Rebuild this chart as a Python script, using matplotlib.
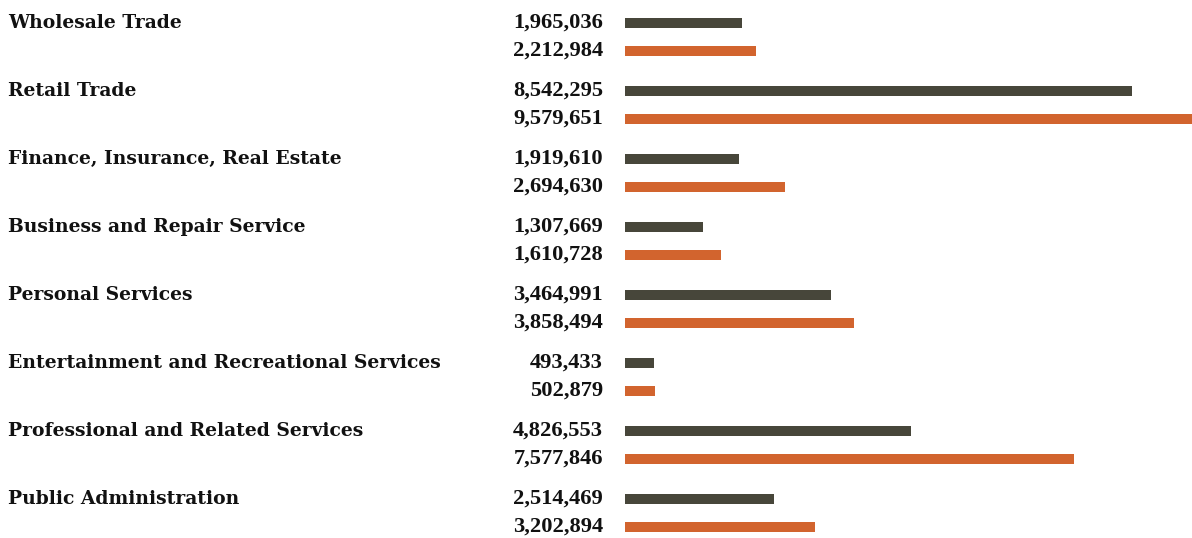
import matplotlib
matplotlib.use("Agg")
import matplotlib.pyplot as plt
import matplotlib.transforms as mtransforms
import numpy as np

categories = [
    "Wholesale Trade",
    "Retail Trade",
    "Finance, Insurance, Real Estate",
    "Business and Repair Service",
    "Personal Services",
    "Entertainment and Recreational Services",
    "Professional and Related Services",
    "Public Administration",
]
values_first = [1965036, 8542295, 1919610, 1307669, 3464991, 493433, 4826553, 2514469]
values_second = [2212984, 9579651, 2694630, 1610728, 3858494, 502879, 7577846, 3202894]

dark = "#47463a"
orange = "#d2642e"

W, H = 1192, 538
fig = plt.figure(figsize=(W / 100, H / 100), dpi=100)
ax = fig.add_axes([625 / W, 0, 1 - 625 / W, 1])

y = np.arange(len(categories))
offset = 28 / 68
bar_h = 10 / 68

ax.barh(y, values_first, height=bar_h, color=dark)
ax.barh(y + offset, values_second, height=bar_h, color=orange)

ax.set_xlim(0, 9560000)
ax.set_ylim((H - 23) / 68, -23 / 68)
ax.axis("off")

name_font = dict(family="DejaVu Serif", weight="bold", fontsize=13.5, color="#111111")
num_font = dict(family="Liberation Serif", weight="bold", fontsize=16.2, color="#111111")
trans = mtransforms.blended_transform_factory(fig.transFigure, ax.transData)
for i, name in enumerate(categories):
    ax.text(8 / W, y[i], name, transform=trans, ha="left", va="center", **name_font)
    ax.text(603 / W, y[i], f"{values_first[i]:,}", transform=trans,
            ha="right", va="center", **num_font)
    ax.text(603 / W, y[i] + offset, f"{values_second[i]:,}", transform=trans,
            ha="right", va="center", **num_font)

fig.savefig("out.png", dpi=100)
